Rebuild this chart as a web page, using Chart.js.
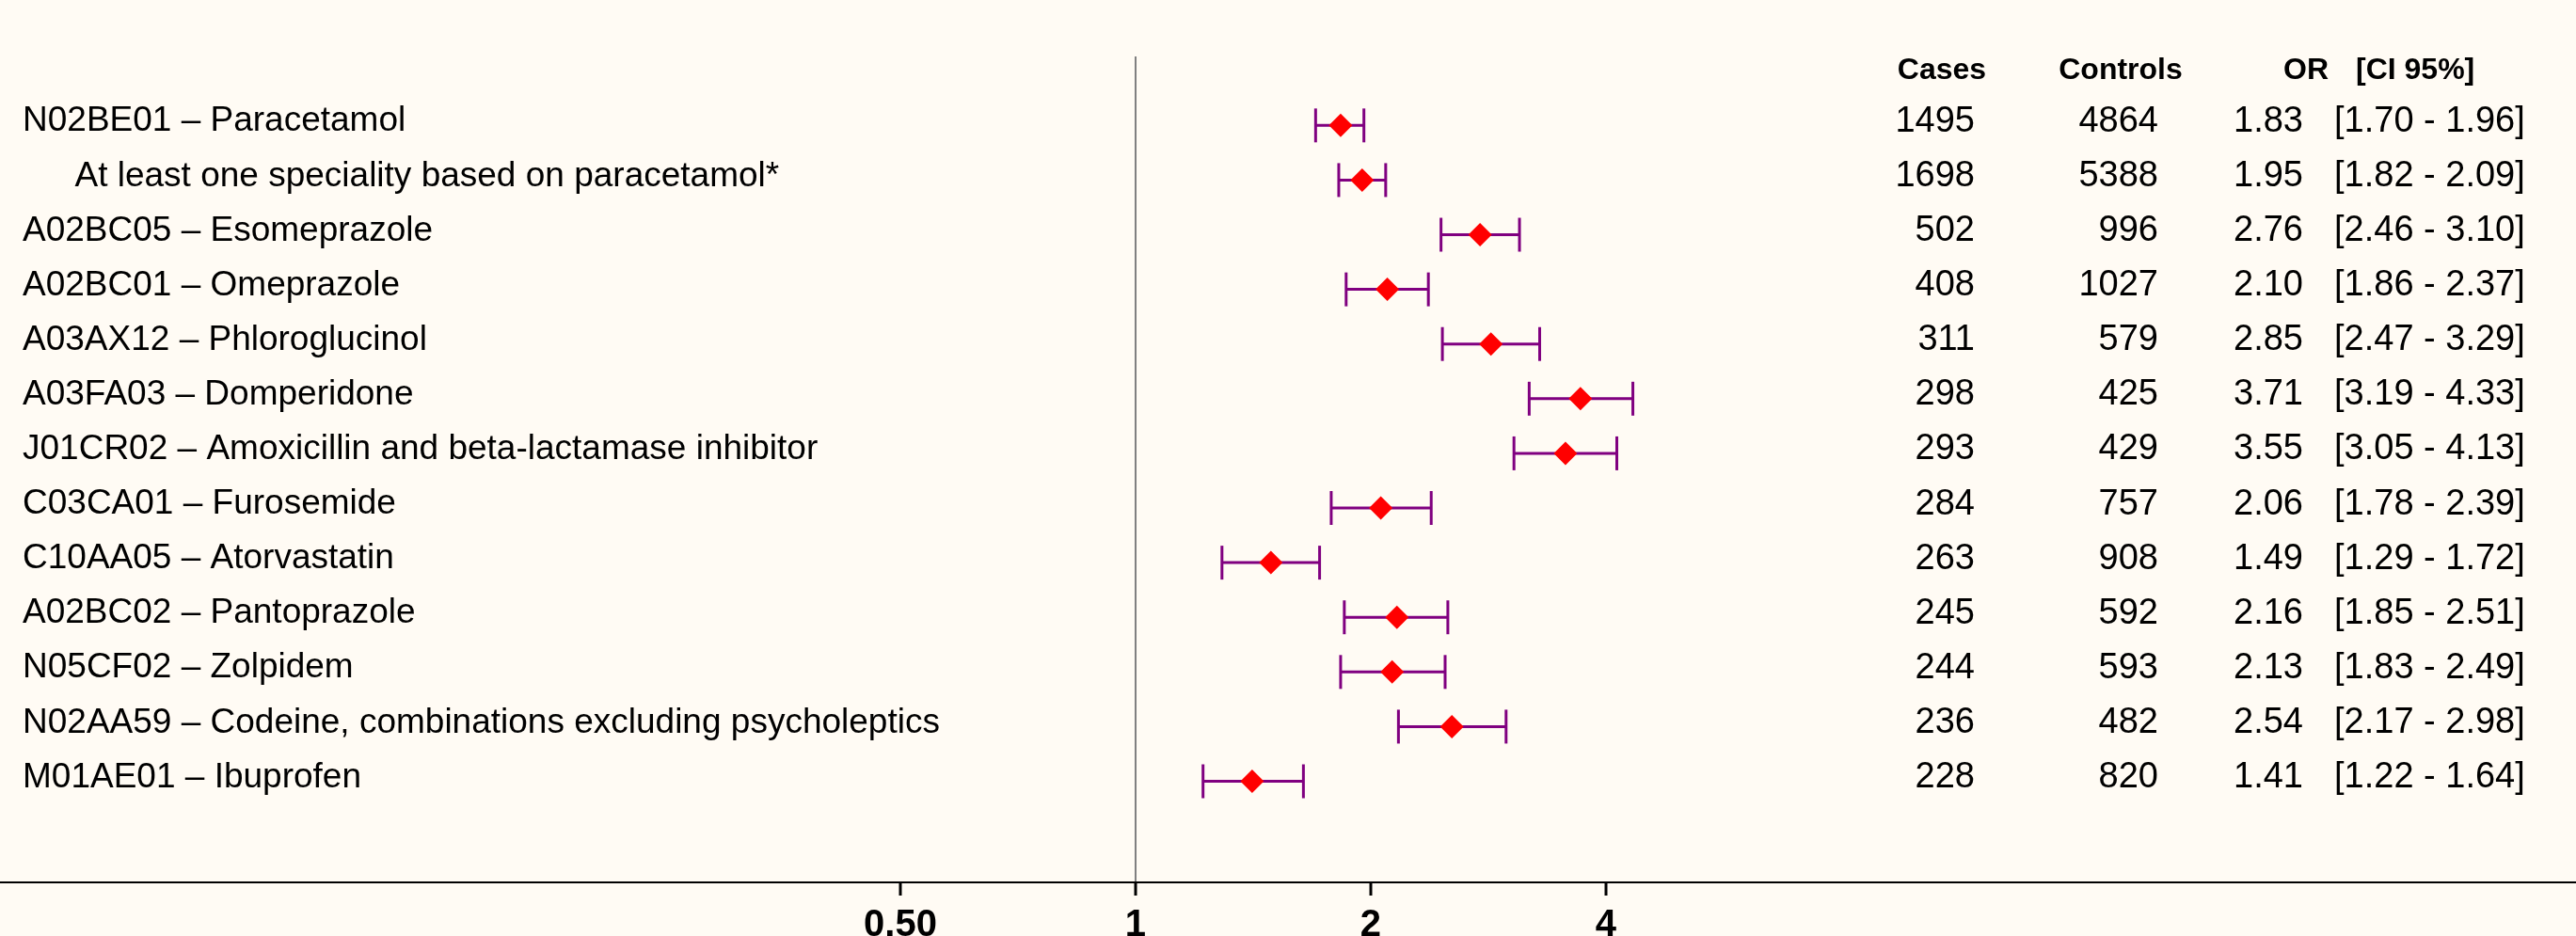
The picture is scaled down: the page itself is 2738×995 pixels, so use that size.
<!DOCTYPE html>
<html>
<head>
<meta charset="UTF-8">
<title>Odds ratios forest plot</title>
<script src="https://cdn.jsdelivr.net/npm/chart.js"></script>
<style>
    body { margin: 0; background: #fffbf4; }
    #forestChart { display: block; }
</style>
</head>
<body>
<canvas id="forestChart" width="2738" height="995"></canvas>

<script>
    // Rows of the table (top to bottom)
    const drugLabels = [
        'N02BE01 – Paracetamol',
        '\u2003\u2002At least one speciality based on paracetamol*',
        'A02BC05 – Esomeprazole',
        'A02BC01 – Omeprazole',
        'A03AX12 – Phloroglucinol',
        'A03FA03 – Domperidone',
        'J01CR02 – Amoxicillin and beta-lactamase inhibitor',
        'C03CA01 – Furosemide',
        'C10AA05 – Atorvastatin',
        'A02BC02 – Pantoprazole',
        'N05CF02 – Zolpidem',
        'N02AA59 – Codeine, combinations excluding psycholeptics',
        'M01AE01 – Ibuprofen'
    ];
    const cases = [1495, 1698, 502, 408, 311, 298, 293, 284, 263, 245, 244, 236, 228];
    const controls = [4864, 5388, 996, 1027, 579, 425, 429, 757, 908, 592, 593, 482, 820];
    const oddsRatio = [1.83, 1.95, 2.76, 2.10, 2.85, 3.71, 3.55, 2.06, 1.49, 2.16, 2.13, 2.54, 1.41];
    const ciLow = [1.70, 1.82, 2.46, 1.86, 2.47, 3.19, 3.05, 1.78, 1.29, 1.85, 1.83, 2.17, 1.22];
    const ciHigh = [1.96, 2.09, 3.10, 2.37, 3.29, 4.33, 4.13, 2.39, 1.72, 2.51, 2.49, 2.98, 1.64];

    // x axis ticks
    const xTickValues = [0.5, 1, 2, 4];
    const xTickLabels = ['0.50', '1', '2', '4'];

    const headers = ['Cases', 'Controls', 'OR', '[CI 95%]'];

    Chart.defaults.font.family = '"Liberation Sans", Arial, sans-serif';
    Chart.defaults.color = '#000';

    // draws the Cases / Controls / OR / CI columns next to each row
    const tablePlugin = {
        id: 'tableColumns',
        afterDraw(chart) {
            const ctx = chart.ctx;
            const yScale = chart.scales.y;
            ctx.save();
            ctx.fillStyle = '#000';
            ctx.textBaseline = 'middle';

            ctx.font = 'bold 32px "Liberation Sans", Arial, sans-serif';
            ctx.textAlign = 'center';
            ctx.fillText(headers[0], 2064, 75);
            ctx.fillText(headers[1], 2254, 75);
            ctx.textAlign = 'left';
            ctx.fillText(headers[2], 2427, 75);
            ctx.fillText(headers[3], 2504, 75);

            ctx.font = '38px "Liberation Sans", Arial, sans-serif';
            for (let i = 0; i < drugLabels.length; i++) {
                const y = yScale.getPixelForValue(i) - 4;
                ctx.textAlign = 'right';
                ctx.fillText(String(cases[i]), 2099, y);
                ctx.fillText(String(controls[i]), 2294, y);
                ctx.fillText(oddsRatio[i].toFixed(2), 2448, y);
                ctx.textAlign = 'left';
                ctx.fillText('[' + ciLow[i].toFixed(2) + ' - ' + ciHigh[i].toFixed(2) + ']', 2481, y);
            }
            ctx.restore();
        }
    };

    // error bars: one segment per row, separated by gaps
    const ciPoints = [];
    for (let i = 0; i < drugLabels.length; i++) {
        ciPoints.push({ x: ciLow[i], y: i });
        ciPoints.push({ x: ciHigh[i], y: i });
        ciPoints.push({ x: null, y: null });
    }

    const ctx = document.getElementById('forestChart').getContext('2d');
    const forestChart = new Chart(ctx, {
        type: 'scatter',
        data: {
            datasets: [{
                label: 'OR',
                data: oddsRatio.map((v, i) => ({ x: v, y: i })),
                pointStyle: 'rectRot',
                pointRadius: 12.5,
                pointBackgroundColor: '#ff0000',
                pointBorderWidth: 0
            }, {
                label: 'CI 95%',
                data: ciPoints,
                showLine: true,
                spanGaps: false,
                borderColor: '#800080',
                borderWidth: 3,
                pointStyle: 'line',
                pointRotation: 90,
                pointRadius: 18,
                pointBorderColor: '#800080',
                pointBorderWidth: 3
            }]
        },
        options: {
            responsive: false,
            animation: false,
            events: [],
            layout: { autoPadding: false, padding: { top: 60, left: 0, right: 0, bottom: 0 } },
            plugins: {
                legend: { display: false },
                tooltip: { enabled: false }
            },
            scales: {
                x: {
                    type: 'logarithmic',
                    min: 0.03521,
                    max: 69.75,
                    afterBuildTicks: axis => {
                        axis.ticks = xTickValues.map(v => ({ value: v }));
                    },
                    afterFit: axis => { axis.height = 57; },
                    ticks: {
                        autoSkip: false,
                        maxRotation: 0,
                        padding: 8,
                        font: { size: 40, weight: 'bold' },
                        callback: (value, index) => xTickLabels[index]
                    },
                    grid: {
                        color: c => (c.tick && c.tick.value === 1 ? '#808080' : 'rgba(0,0,0,0)'),
                        lineWidth: 2,
                        tickColor: '#000',
                        tickLength: 14,
                        tickWidth: 3
                    },
                    border: { display: true, color: '#000', width: 2 }
                },
                y: {
                    type: 'linear',
                    reverse: true,
                    min: -1.262,
                    max: 13.85,
                    afterBuildTicks: axis => {
                        axis.ticks = drugLabels.map((_, i) => ({ value: i - 0.07 }));
                    },
                    afterFit: axis => { axis.width = 0; },
                    ticks: {
                        mirror: true,
                        padding: 24,
                        autoSkip: false,
                        font: { size: 37 },
                        callback: (value, index) => drugLabels[index]
                    },
                    grid: { display: false },
                    border: { display: false }
                }
            }
        },
        plugins: [tablePlugin]
    });
</script>
</body>
</html>
